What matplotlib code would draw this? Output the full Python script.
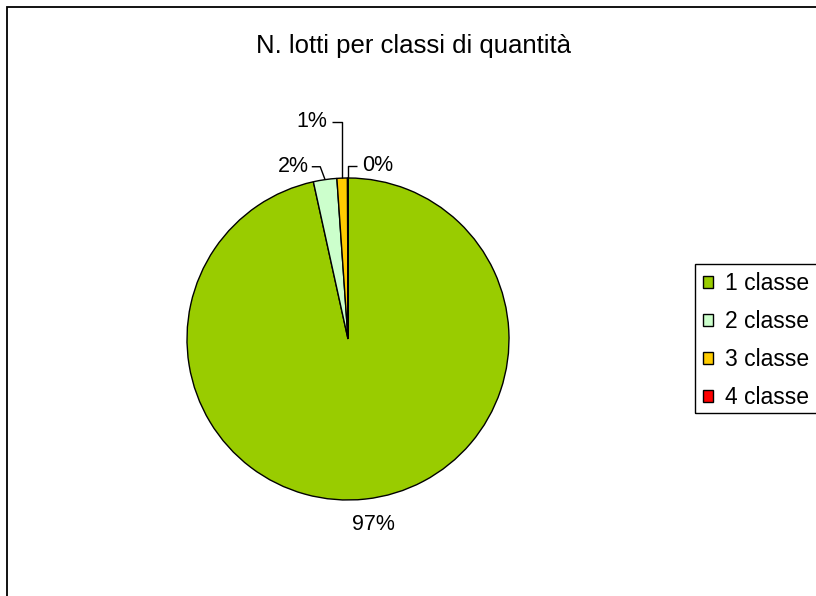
import matplotlib
matplotlib.use("Agg")
import matplotlib.pyplot as plt
import numpy as np
from matplotlib.patches import Rectangle, Patch

plt.rcParams['font.family'] = ['Liberation Sans', 'DejaVu Sans']

title = "N. lotti per classi di quantità"
categories = ["1 classe", "2 classe", "3 classe", "4 classe"]
values = [96.55, 2.35, 1.05, 0.05]
pct_labels = ["97%", "2%", "1%", "0%"]
colors = ["#99CC00", "#CCFFCC", "#FFCC00", "#FF0000"]

W, H = 816, 596
fig = plt.figure(figsize=(W / 100, H / 100), dpi=100)

# chart border (extends past right/bottom edges)
fig.patches.append(Rectangle((7 / W, -0.05), 1.1, (H - 7) / H + 0.05,
                             transform=fig.transFigure, fill=False,
                             edgecolor="black", linewidth=1.3))

# axes such that 1 data unit = 161 px, pie centered at (348, 339)
px = 161.0
cx, cy = 348, H - 339
xr, yr = 2.0, 1.55
ax = fig.add_axes([(cx - xr * px) / W, (cy - yr * px) / H, 2 * xr * px / W, 2 * yr * px / H])

wedges, _ = ax.pie(values, colors=colors, startangle=90, counterclock=False,
                   radius=1.0, wedgeprops=dict(edgecolor="black", linewidth=1.0))
ax.set_xlim(-xr, xr)
ax.set_ylim(-yr, yr)
ax.set_aspect("equal")
ax.axis("off")

fs = 15.5
# label layout in data units (1 unit = pie radius)
layout = {
    1: dict(tx=-0.34, ty=1.07, ey=1.07, hx=-0.225, dx=-0.03),
    2: dict(tx=-0.225, ty=1.35, ey=1.35, hx=-0.10, dx=0.0),
    3: dict(tx=0.185, ty=1.075, ey=1.075, hx=0.055, dx=0.0),
}
for i, w in enumerate(wedges):
    mid = np.deg2rad((w.theta1 + w.theta2) / 2)
    ax_, ay_ = np.cos(mid), np.sin(mid)
    if i == 0:
        ax.text(0.155, -1.155, pct_labels[i], ha="center", va="center", fontsize=fs)
        continue
    L = layout[i]
    ax.plot([ax_, ax_ + L["dx"], L["hx"]], [ay_, L["ey"], L["ey"]], color="black", lw=1.0,
            solid_capstyle="butt")
    ax.text(L["tx"], L["ty"], pct_labels[i], ha="center", va="center", fontsize=fs)

fig.text(256 / W, 1 - 46 / H, title, ha="left", va="center", fontsize=18.5)

# legend frame
fig.patches.append(Rectangle((695 / W, 1 - 413 / H), 0.3, (413 - 264) / H,
                             transform=fig.transFigure, fill=False,
                             edgecolor="black", linewidth=1.0))
handles = [Patch(facecolor=c, edgecolor="black", linewidth=1.0) for c in colors]
leg = fig.legend(handles, categories, loc="upper left",
                 bbox_to_anchor=(703 / W, 1 - 272 / H), frameon=False,
                 fontsize=16.5, handlelength=0.45, handleheight=0.45,
                 handletextpad=0.5, labelspacing=0.66, borderpad=0.0,
                 borderaxespad=0.0)

fig.savefig("out.png", dpi=100)
